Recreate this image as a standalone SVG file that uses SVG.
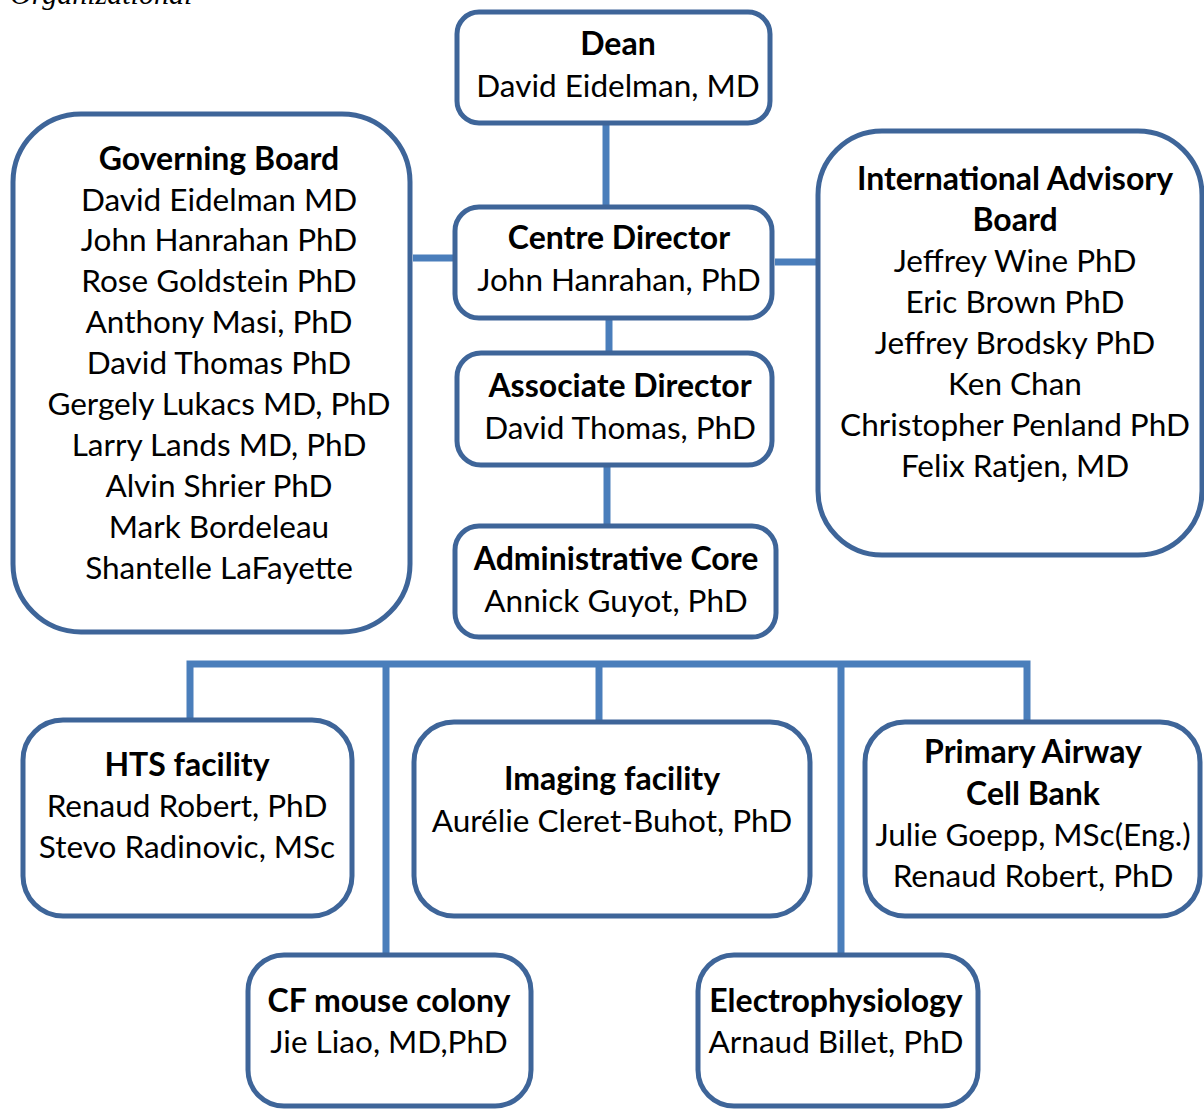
<svg xmlns="http://www.w3.org/2000/svg" width="1204" height="1109" viewBox="0 0 1204 1109">
<style>
.box{fill:#fff;stroke:#3e6599;stroke-width:5}
.con{fill:none;stroke:#4a7ebb;stroke-width:7}
text{font-family:Lato,"Liberation Sans",sans-serif;font-size:31.5px;fill:#000;text-anchor:middle}
.b{font-weight:bold;font-size:32px}
.page{font-family:"Liberation Serif",serif;font-style:italic;text-anchor:start;font-size:30px}
</style>
<rect width="1204" height="1109" fill="#fff"/>
<text class="page" x="10" y="4">Organizational</text>
<g id="connectors">
<line class="con" x1="606" y1="122" x2="606" y2="208"/>
<line class="con" x1="413" y1="258" x2="456" y2="258"/>
<line class="con" x1="775" y1="262" x2="819" y2="262"/>
<line class="con" x1="609" y1="317" x2="609" y2="354"/>
<line class="con" x1="607" y1="464" x2="607" y2="527"/>
<path class="con" d="M190 721 V664 H1027 V723"/>
<line class="con" x1="386" y1="664" x2="386" y2="956"/>
<line class="con" x1="599" y1="664" x2="599" y2="723"/>
<line class="con" x1="841" y1="664" x2="841" y2="956"/>
</g>
<g id="dean">
<rect class="box" x="457" y="12" width="313" height="111" rx="22"/>
<text class="b" x="618" y="55">Dean</text>
<text x="618" y="97">David Eidelman, MD</text>
</g>
<g id="governing-board">
<rect class="box" x="13" y="114" width="397" height="518" rx="68"/>
<text class="b" x="219" y="170">Governing Board</text>
<text x="219" y="211">David Eidelman MD</text>
<text x="219" y="251">John Hanrahan PhD</text>
<text x="219" y="292">Rose Goldstein PhD</text>
<text x="219" y="333">Anthony Masi, PhD</text>
<text x="219" y="374">David Thomas PhD</text>
<text x="219" y="415">Gergely Lukacs MD, PhD</text>
<text x="219" y="456">Larry Lands MD, PhD</text>
<text x="219" y="497">Alvin Shrier PhD</text>
<text x="219" y="538">Mark Bordeleau</text>
<text x="219" y="579">Shantelle LaFayette</text>
</g>
<g id="centre-director">
<rect class="box" x="455" y="207" width="317" height="111" rx="24"/>
<text class="b" x="619" y="249">Centre Director</text>
<text x="619" y="291">John Hanrahan, PhD</text>
</g>
<g id="advisory-board">
<rect class="box" x="818" y="131" width="384" height="424" rx="64"/>
<text class="b" x="1015" y="190">International Advisory</text>
<text class="b" x="1015" y="231">Board</text>
<text x="1015" y="272">Jeffrey Wine PhD</text>
<text x="1015" y="313">Eric Brown PhD</text>
<text x="1015" y="354">Jeffrey Brodsky PhD</text>
<text x="1015" y="395">Ken Chan</text>
<text x="1015" y="436">Christopher Penland PhD</text>
<text x="1015" y="477">Felix Ratjen, MD</text>
</g>
<g id="associate-director">
<rect class="box" x="457" y="353" width="315" height="112" rx="24"/>
<text class="b" x="620" y="397">Associate Director</text>
<text x="620" y="439">David Thomas, PhD</text>
</g>
<g id="administrative-core">
<rect class="box" x="455" y="526" width="321" height="111" rx="24"/>
<text class="b" x="616" y="570">Administrative Core</text>
<text x="616" y="612">Annick Guyot, PhD</text>
</g>
<g id="hts">
<rect class="box" x="23" y="720" width="329" height="196" rx="40"/>
<text class="b" x="187" y="776">HTS facility</text>
<text x="187" y="817">Renaud Robert, PhD</text>
<text x="187" y="858">Stevo Radinovic, MSc</text>
</g>
<g id="imaging">
<rect class="box" x="414" y="722" width="396" height="194" rx="40"/>
<text class="b" x="612" y="790">Imaging facility</text>
<text x="612" y="832">Aurélie Cleret-Buhot, PhD</text>
</g>
<g id="cell-bank">
<rect class="box" x="865" y="722" width="335" height="194" rx="40"/>
<text class="b" x="1033" y="763">Primary Airway</text>
<text class="b" x="1033" y="805">Cell Bank</text>
<text x="1033" y="846">Julie Goepp, MSc(Eng.)</text>
<text x="1033" y="887">Renaud Robert, PhD</text>
</g>
<g id="cf-mouse">
<rect class="box" x="248" y="955" width="283" height="151" rx="36"/>
<text class="b" x="389" y="1012">CF mouse colony</text>
<text x="389" y="1053">Jie Liao, MD,PhD</text>
</g>
<g id="electrophysiology">
<rect class="box" x="698" y="955" width="280" height="151" rx="36"/>
<text class="b" x="836" y="1012">Electrophysiology</text>
<text x="836" y="1053">Arnaud Billet, PhD</text>
</g>
</svg>
